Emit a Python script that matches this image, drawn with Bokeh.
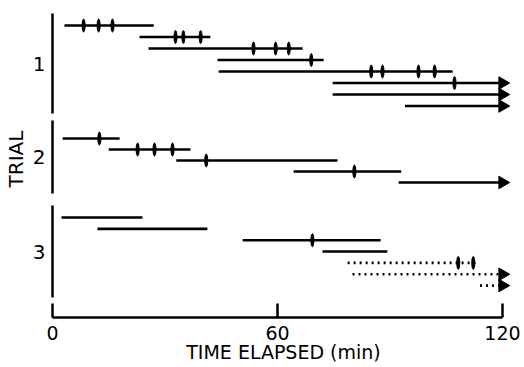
import math
from bokeh.plotting import figure
from bokeh.models import Range1d, FixedTicker, ColumnDataSource
from bokeh.embed import file_html
from bokeh.resources import INLINE

# ---------------- data ----------------
seg_trial = [1, 1, 1, 1, 1, 1, 1, 1, 2, 2, 2, 2, 2, 3, 3, 3, 3, 3, 3, 3]
seg_lane = [0, 1, 2, 3, 4, 5, 6, 7, 0, 1, 2, 3, 4, 0, 1, 2, 3, 4, 5, 6]
seg_start = [3.2, 23.2, 25.6, 44.0, 44.3, 74.7, 74.7, 94.0,
             2.7, 15.0, 33.0, 64.3, 92.3,
             2.4, 12.0, 50.7, 72.0, 78.7, 80.0, 114.0]
seg_end = [27.0, 42.1, 66.7, 72.3, 106.7, 120.0, 120.0, 120.0,
           17.9, 36.8, 76.0, 93.0, 120.0,
           24.0, 41.3, 87.5, 89.3, 112.8, 120.0, 120.0]
seg_continues = [False, False, False, False, False, True, True, True,
                 False, False, False, False, True,
                 False, False, False, False, False, True, True]
seg_kind = ["solid"] * 17 + ["dotted"] * 3

mark_trial = [1, 1, 1, 1, 1, 1, 1, 1, 1, 1, 1, 1, 1, 1, 1,
              2, 2, 2, 2, 2, 2, 3, 3, 3]
mark_lane = [0, 0, 0, 1, 1, 1, 2, 2, 2, 3, 4, 4, 4, 4, 5,
             0, 1, 1, 1, 2, 3, 2, 4, 4]
mark_time = [8.3, 12.3, 16.0, 32.8, 34.9, 39.5, 53.6, 59.5, 63.0, 69.0,
             85.0, 88.0, 97.6, 101.9, 107.2,
             12.5, 22.7, 27.2, 32.0, 41.0, 80.5, 69.3, 108.2, 112.2]

trial_names = ["1", "2", "3"]
x_ticks = [0, 60, 120]
x_title = "TIME ELAPSED (min)"
y_title = "TRIAL"

# ---------------- layout (screen px from top of frame) ----------------
lane_base = {1: 25.0, 2: 138.0, 3: 217.0}
lane_step = {1: 11.5, 2: 11.0, 3: 11.35}
axis_span = {1: (13.0, 113.0), 2: (120.0, 193.0), 3: (205.0, 297.0)}
label_pos = {1: 63.0, 2: 156.0, 3: 251.0}

def lane_y(t, l):
    return lane_base[t] + l * lane_step[t]

W, H = 524, 367
left, right, top, bottom = 46, 4, 0, 50
px_per_min = 3.75
x0 = -6 / px_per_min
x1 = x0 + (W - left - right) / px_per_min

p = figure(width=W, height=H, output_backend="svg", toolbar_location=None,
           x_range=Range1d(x0, x1), y_range=Range1d(H - top - bottom, 0),
           min_border_left=left, min_border_right=right,
           min_border_top=top, min_border_bottom=bottom)
p.grid.visible = False
p.outline_line_color = None
p.background_fill_color = "white"
p.border_fill_color = "white"

# trial axis pieces
p.segment(x0=[0, 0, 0], y0=[axis_span[t][0] for t in (1, 2, 3)],
          x1=[0, 0, 0], y1=[axis_span[t][1] for t in (1, 2, 3)],
          line_width=2.5, line_color="black")

ys = [lane_y(t, l) for t, l in zip(seg_trial, seg_lane)]
solid = ColumnDataSource(dict(
    x0=[s for s, k in zip(seg_start, seg_kind) if k == "solid"],
    x1=[e for e, k in zip(seg_end, seg_kind) if k == "solid"],
    y=[y for y, k in zip(ys, seg_kind) if k == "solid"]))
dotted = ColumnDataSource(dict(
    x0=[s for s, k in zip(seg_start, seg_kind) if k == "dotted"],
    x1=[e for e, k in zip(seg_end, seg_kind) if k == "dotted"],
    y=[y for y, k in zip(ys, seg_kind) if k == "dotted"]))
p.segment(x0="x0", y0="y", x1="x1", y1="y", source=solid,
          line_width=2.6, line_color="black")
p.segment(x0="x0", y0="y", x1="x1", y1="y", source=dotted,
          line_width=2.6, line_color="black", line_dash="2 4")

arr = ColumnDataSource(dict(
    x=[e for e, c in zip(seg_end, seg_continues) if c],
    y=[y for y, c in zip(ys, seg_continues) if c]))
p.scatter(x="x", y="y", source=arr, marker="triangle", size=12.5,
          angle=-math.pi / 2, fill_color="black", line_color="black")

marks = ColumnDataSource(dict(
    x=mark_time, y=[lane_y(t, l) for t, l in zip(mark_trial, mark_lane)]))
p.ellipse(x="x", y="y", source=marks, width=3.0, height=13,
          width_units="screen", height_units="screen",
          fill_color="black", line_color="black")

# x axis
xa = p.xaxis[0]
xa.ticker = FixedTicker(ticks=x_ticks)
xa.bounds = (0, 120)
xa.minor_tick_line_color = None
xa.major_tick_in = 14
xa.major_tick_out = 0
xa.axis_line_width = 2.5
xa.major_tick_line_width = 2.5
xa.axis_line_color = "black"
xa.major_tick_line_color = "black"
xa.major_label_text_font = "DejaVu Sans"
xa.major_label_text_font_size = "19px"
xa.major_label_text_color = "black"
xa.major_label_standoff = 8
xa.axis_label = x_title
xa.axis_label_text_font = "DejaVu Sans"
xa.axis_label_text_font_size = "19px"
xa.axis_label_text_font_style = "normal"
xa.axis_label_text_color = "black"
xa.axis_label_standoff = -2

# y axis (trial labels)
ya = p.yaxis[0]
ya.ticker = FixedTicker(ticks=[label_pos[t] for t in (1, 2, 3)])
ya.major_label_overrides = {label_pos[t]: n for t, n in zip((1, 2, 3), trial_names)}
ya.axis_line_color = None
ya.major_tick_line_color = None
ya.minor_tick_line_color = None
ya.major_tick_in = 0
ya.major_tick_out = 0
ya.major_label_standoff = 1
ya.major_label_text_font = "DejaVu Sans"
ya.major_label_text_font_size = "20px"
ya.major_label_text_color = "black"
ya.axis_label = y_title
ya.axis_label_text_font = "DejaVu Sans"
ya.axis_label_text_font_size = "20px"
ya.axis_label_text_font_style = "normal"
ya.axis_label_text_color = "black"
ya.axis_label_standoff = 2

open("out.html", "w").write(file_html(p, INLINE))
